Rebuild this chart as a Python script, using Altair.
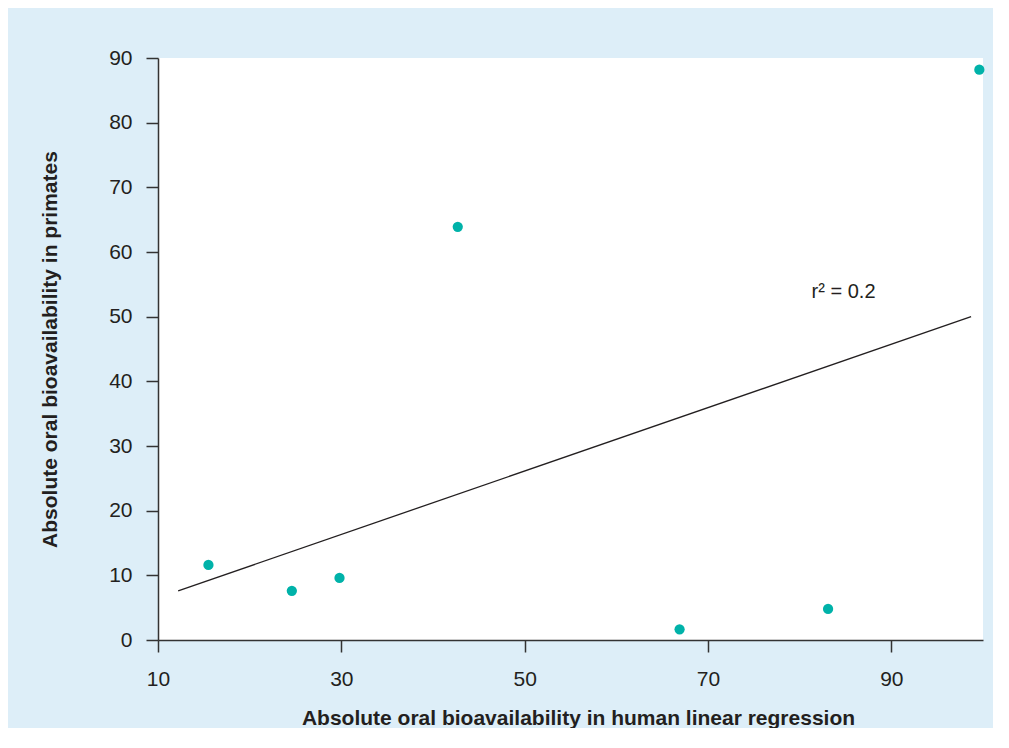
import altair as alt
import pandas as pd

# Data
human_ba = [15.5, 24.6, 29.8, 42.7, 66.9, 83.1, 99.6]
primate_ba = [11.6, 7.6, 9.6, 63.9, 1.65, 4.8, 88.2]

line_x = [12.2, 98.7]
line_y = [7.6, 50.0]

note_x = [81.3]
note_y = [52.9]
note_text = ["r\u00b2 = 0.2"]

x_ticks = [10, 30, 50, 70, 90]
y_ticks = [0, 10, 20, 30, 40, 50, 60, 70, 80, 90]

pts = pd.DataFrame({"x": human_ba, "y": primate_ba})
ln = pd.DataFrame({"x": line_x, "y": line_y})
nt = pd.DataFrame({"x": note_x, "y": note_y, "t": note_text})

FONT = "Liberation Sans"
INK = "#231f20"

xscale = alt.Scale(domain=[10, 100], nice=False, zero=False)
yscale = alt.Scale(domain=[0, 90], nice=False, zero=False)

xaxis = alt.Axis(
    values=x_ticks, title="Absolute oral bioavailability in human linear regression",
    grid=False, tickSize=12, labelPadding=16, labelFontSize=21, labelFont=FONT,
    labelColor=INK, titleFont=FONT, titleFontSize=21, titleFontWeight="bold",
    titleColor=INK, titleX=420, titleY=78, titleBaseline="middle",
    domainColor="#333333", tickColor="#333333", domainWidth=1.5, tickWidth=1.5,
    labelFlush=False,
)
yaxis = alt.Axis(
    values=y_ticks, title="Absolute oral bioavailability in primates",
    grid=False, tickSize=12, labelPadding=14, labelFontSize=21, labelFont=FONT,
    labelColor=INK, titleFont=FONT, titleFontSize=21, titleFontWeight="bold",
    titleColor=INK, titleX=-108, titleY=291, titleAngle=-90,
    titleBaseline="middle", titleAlign="center",
    domainColor="#333333", tickColor="#333333", domainWidth=1.5, tickWidth=1.5,
    labelFlush=False,
)

points = alt.Chart(pts).mark_circle(size=105, color="#00b2a9", opacity=1).encode(
    x=alt.X("x:Q", scale=xscale, axis=xaxis),
    y=alt.Y("y:Q", scale=yscale, axis=yaxis),
)

reg = alt.Chart(ln).mark_line(color="#231f20", strokeWidth=1.3).encode(
    x=alt.X("x:Q", scale=xscale),
    y=alt.Y("y:Q", scale=yscale),
)

note = alt.Chart(nt).mark_text(
    align="left", baseline="alphabetic", fontSize=20, font=FONT, color=INK
).encode(
    x=alt.X("x:Q", scale=xscale),
    y=alt.Y("y:Q", scale=yscale),
    text="t:N",
)

chart = alt.layer(reg, points, note).properties(
    width=825,
    height=582,
    background="#ddeef8",
    padding={"left": 150, "top": 50, "right": 10, "bottom": 88},
    autosize=alt.AutoSizeParams(type="none"),
).configure_view(fill="white", stroke=None, clip=False)

chart.save("out.html", embed_options={"renderer": "svg", "actions": False})
